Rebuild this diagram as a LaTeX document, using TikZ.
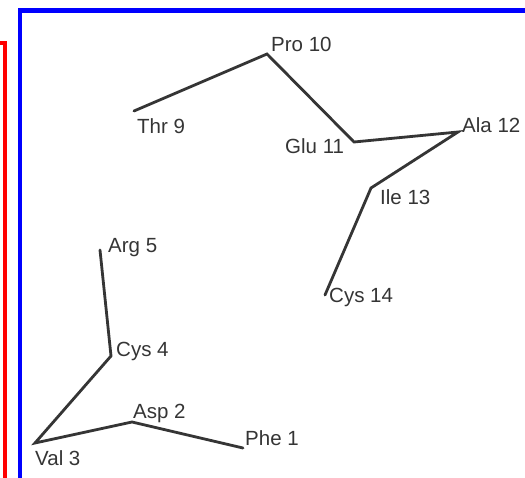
\documentclass[tikz,border=0pt]{standalone}
\usepackage{fontspec}
\setmainfont{Liberation Sans}
\definecolor{ink}{HTML}{353535}
\tikzset{
  lbl/.style={anchor=base west, inner sep=0pt, text=ink, font=\fontsize{20.5pt}{21pt}\selectfont},
  chain/.style={draw=ink, line width=2.8pt, line join=miter, line cap=round},
}
\begin{document}
\begin{tikzpicture}[x=1pt, y=-1pt]
\useasboundingbox[fill=white] (0,0) rectangle (525,478);
% frames
\draw[red, line width=4.5pt, line join=miter] (0,43) -- (5,43) -- (5,480);
\draw[blue, line width=4.5pt, line join=miter] (19.8,480) -- (19.8,10.5) -- (527,10.5);
% residues (vertices)
\coordinate (p1) at (243,448);
\coordinate (p2) at (132,422);
\coordinate (p3) at (35,443);
\coordinate (p4) at (111,356);
\coordinate (p5) at (100,250);
\coordinate (p9) at (134,111);
\coordinate (p10) at (267,54);
\coordinate (p11) at (354,142);
\coordinate (p12) at (458,132);
\coordinate (p13) at (371,188);
\coordinate (p14) at (325,295);
% chains
\draw[chain] (p1) -- (p2) -- (p3) -- (p4) -- (p5);
\draw[chain] (p9) -- (p10) -- (p11) -- (p12) -- (p13) -- (p14);
% labels
\node[lbl] (l1) at (245,445) {Phe 1};
\node[lbl] (l2) at (133,418) {Asp 2};
\node[lbl] (l3) at (35,465) {Val 3};
\node[lbl] (l4) at (116,357) {Cys 4};
\node[lbl] (l5) at (108,253) {Arg 5};
\node[lbl] (l9) at (137,134) {Thr 9};
\node[lbl] (l10) at (271,52) {Pro 10};
\node[lbl] (l11) at (285,154) {Glu 11};
\node[lbl] (l12) at (462,133) {Ala 12};
\node[lbl] (l13) at (380,205) {Ile 13};
\node[lbl] (l14) at (329,303) {Cys 14};
\end{tikzpicture}
\end{document}
